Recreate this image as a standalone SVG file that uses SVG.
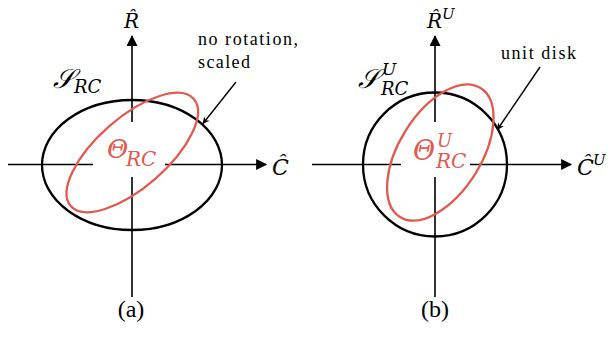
<svg xmlns="http://www.w3.org/2000/svg" width="610" height="339" viewBox="0 0 610 339">
<style>
.ax{stroke:#000;stroke-width:1.6;fill:none}
.blk{stroke:#000;stroke-width:2.3;fill:none}
.red{stroke:#e05a50;stroke-width:2.3;fill:none}
.call{stroke:#000;stroke-width:1.4;fill:none}
.m{font-family:"DejaVu Serif","Liberation Serif",serif;font-style:italic}
.rm{font-family:"Liberation Serif","DejaVu Serif",serif}
.rt{fill:#e05a50}
</style>
<defs>
<marker id="ah" viewBox="0 0 10 10" refX="9" refY="5" markerWidth="12" markerHeight="11" markerUnits="userSpaceOnUse" orient="auto"><path d="M0,0 L10,5 L0,10 z" fill="#000"/></marker>
<marker id="sa" viewBox="0 0 10 10" refX="9" refY="5" markerWidth="9" markerHeight="7" markerUnits="userSpaceOnUse" orient="auto"><path d="M0,0 L10,5 L0,10 L3,5 z" fill="#000"/></marker>
</defs>
<g id="connectors">
<path class="ax" d="M8,164.5 H93 M165,164.5 H266" marker-end="url(#ah)"/>
<path class="ax" d="M132,297 V177 M132,122 V36" marker-end="url(#ah)"/>
<path class="ax" d="M312,164.5 H401 M470,164.5 H571" marker-end="url(#ah)"/>
<path class="ax" d="M435,297 V177 M435,122 V36" marker-end="url(#ah)"/>
<path class="call" d="M236,82 L203,123.5" marker-end="url(#sa)"/>
<path class="call" d="M540,67 L497.5,129.5" marker-end="url(#sa)"/>
</g>
<g id="S_RC">
<ellipse class="blk" cx="132" cy="165" rx="90" ry="65"/>
<text class="m" x="53" y="88" font-size="27">𝒮</text>
<text class="m" x="74" y="93" font-size="18">RC</text>
</g>
<g id="Theta_RC">
<ellipse class="red" cx="0" cy="0" rx="81.5" ry="35" transform="translate(132.3,152.5) rotate(-41)"/>
<text class="m rt" x="107" y="158" font-size="26">Θ</text>
<text class="m rt" x="126" y="166" font-size="20">RC</text>
</g>
<g id="S_RC_U">
<circle class="blk" cx="435" cy="164.5" r="72"/>
<text class="m" x="358" y="88" font-size="27">𝒮</text>
<text class="m" x="382" y="75" font-size="17">U</text>
<text class="m" x="381" y="95" font-size="18">RC</text>
</g>
<g id="Theta_RC_U">
<ellipse class="red" cx="0" cy="0" rx="76" ry="41" transform="translate(440.3,152.5) rotate(-58)"/>
<text class="m rt" x="413" y="160" font-size="27">Θ</text>
<text class="m rt" x="437" y="147" font-size="18">U</text>
<text class="m rt" x="436" y="168" font-size="20">RC</text>
</g>
<g id="labels">
<text class="m" x="124" y="28" font-size="20">R̂</text>
<text class="m" x="272" y="175" font-size="22">Ĉ</text>
<text class="m" x="427" y="28" font-size="20">R̂</text>
<text class="m" x="442" y="19" font-size="15">U</text>
<text class="m" x="577" y="175" font-size="22">Ĉ</text>
<text class="m" x="593" y="165" font-size="15">U</text>
<text class="rm" x="198" y="45" font-size="18" textLength="100">no rotation,</text>
<text class="rm" x="198" y="68" font-size="18" textLength="52">scaled</text>
<text class="rm" x="501" y="59" font-size="18" textLength="75">unit disk</text>
<text class="rm" x="131" y="317" font-size="24" text-anchor="middle">(a)</text>
<text class="rm" x="435" y="317" font-size="24" text-anchor="middle">(b)</text>
</g>
</svg>
